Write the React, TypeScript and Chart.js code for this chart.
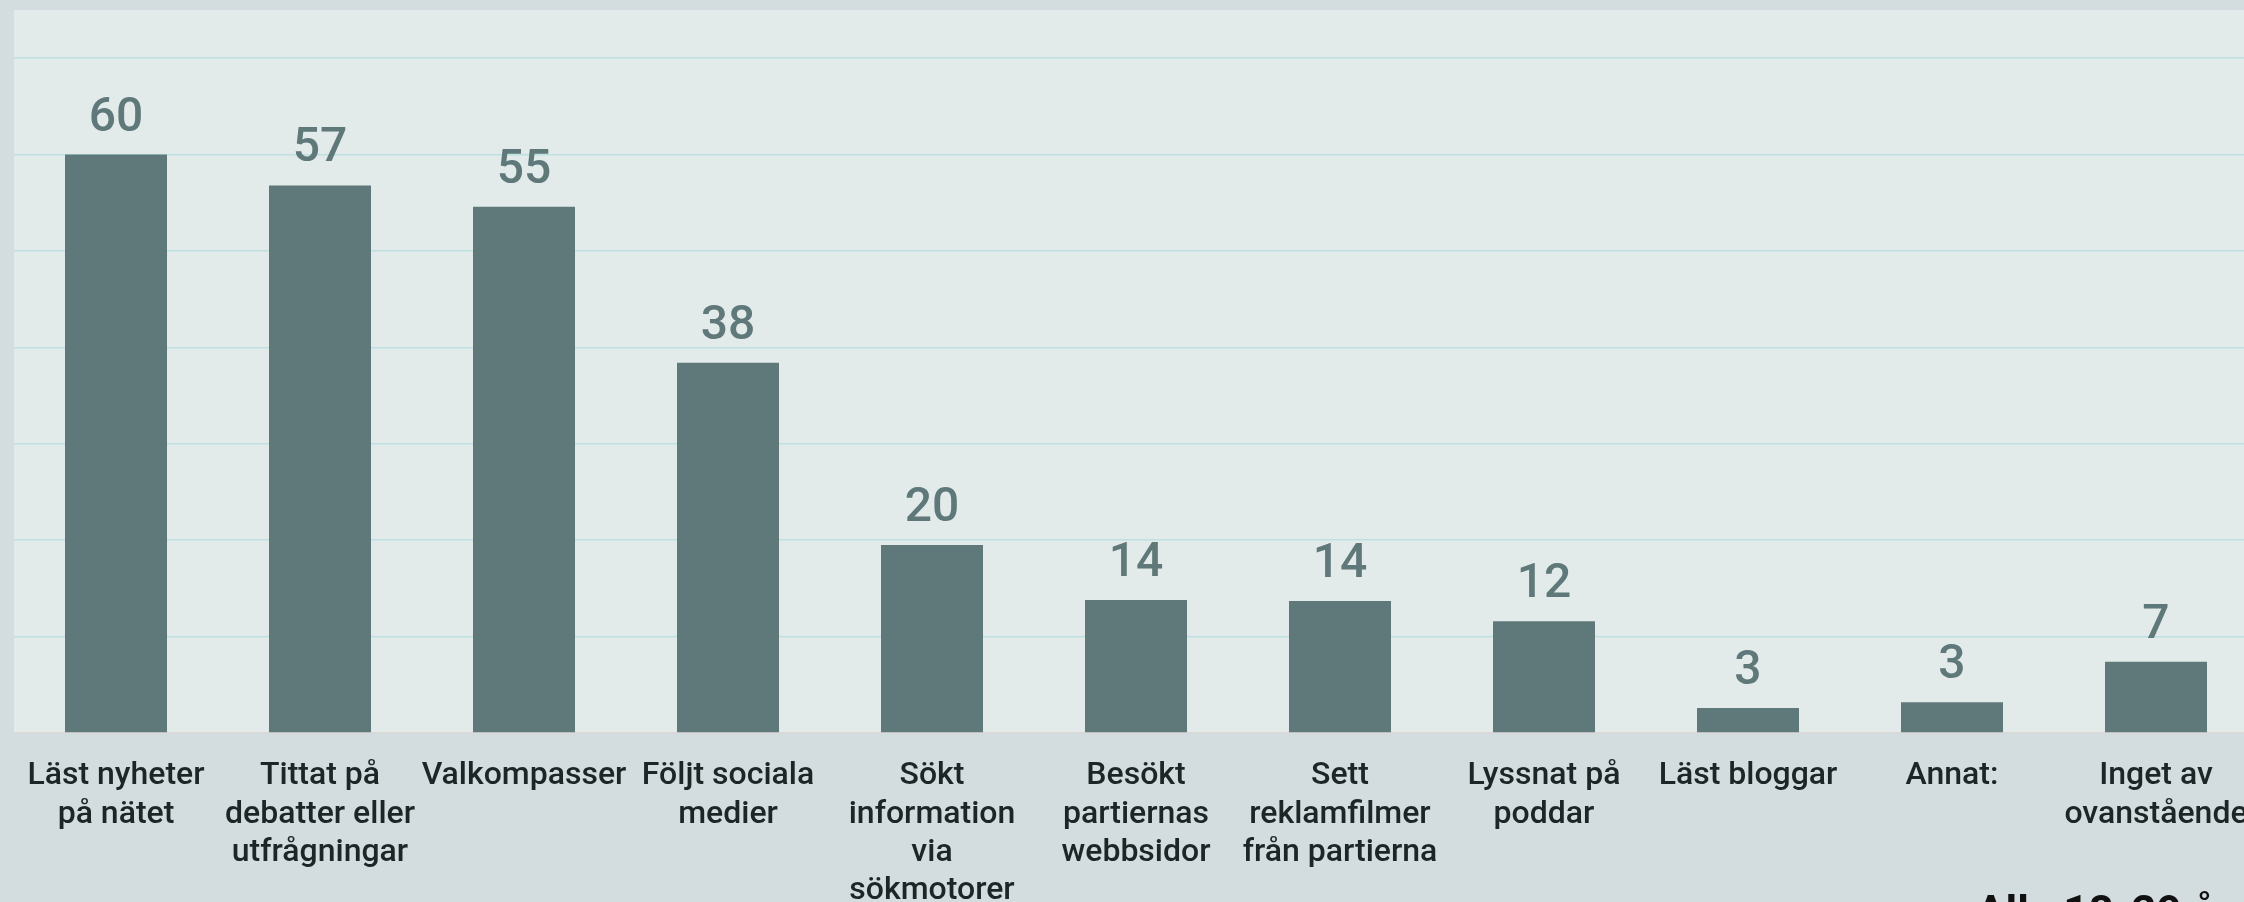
import React, { useEffect, useRef } from "react";
import { Chart, registerables } from "chart.js";

Chart.register(...registerables);

const categories: string[][] = [
  ["Läst nyheter", "på nätet"],
  ["Tittat på", "debatter eller", "utfrågningar"],
  ["Valkompasser"],
  ["Följt sociala", "medier"],
  ["Sökt", "information", "via", "sökmotorer"],
  ["Besökt", "partiernas", "webbsidor"],
  ["Sett", "reklamfilmer", "från partierna"],
  ["Lyssnat på", "poddar"],
  ["Läst bloggar"],
  ["Annat:"],
  ["Inget av", "ovanstående"],
];

const values: number[] = [60, 56.8, 54.6, 38.4, 19.5, 13.8, 13.7, 11.6, 2.6, 3.2, 7.4];
const valueLabels: string[] = ["60", "57", "55", "38", "20", "14", "14", "12", "3", "3", "7"];
const seriesName = "Alla 18-29 år";

const OUTER_BG = "#d3dcde";
const AREA_BG = "#e3eaea";
const BAR = "#5f7879";
const GRID = "#bde0e1";
const TEXT = "#1d2626";

const CANVAS_W = 2300;
const CANVAS_H = 960;

export default function App() {
  const ref = useRef<HTMLCanvasElement | null>(null);

  useEffect(() => {
    if (!ref.current) return;
    const areaBg = {
      id: "areaBg",
      beforeDraw(chart: any) {
        const { ctx, chartArea } = chart;
        ctx.save();
        ctx.fillStyle = AREA_BG;
        ctx.fillRect(chartArea.left, chartArea.top, chartArea.right - chartArea.left, chartArea.bottom - chartArea.top);
        ctx.restore();
      },
    };
    const valueText = {
      id: "valueText",
      afterDatasetsDraw(chart: any) {
        const { ctx } = chart;
        const meta = chart.getDatasetMeta(0);
        ctx.save();
        ctx.fillStyle = BAR;
        ctx.font = "500 48px Roboto";
        ctx.textAlign = "center";
        ctx.textBaseline = "alphabetic";
        meta.data.forEach((el: any, i: number) => {
          ctx.fillText(valueLabels[i], el.x, el.y - 24);
        });
        ctx.restore();
      },
      afterDraw(chart: any) {
        const { ctx } = chart;
        ctx.save();
        ctx.fillStyle = "#111";
        ctx.font = "700 44px Roboto";
        ctx.textAlign = "left";
        ctx.textBaseline = "alphabetic";
        ctx.fillText(seriesName, 1976, 927);
        ctx.restore();
      },
    };
    const chart = new Chart(ref.current, {
      type: "bar",
      data: {
        labels: categories,
        datasets: [
          {
            label: seriesName,
            data: values,
            backgroundColor: BAR,
            barPercentage: 0.5,
            categoryPercentage: 1.0,
          },
        ],
      },
      options: {
        responsive: false,
        animation: false,
        devicePixelRatio: 1,
        layout: { padding: { left: 14, right: 42, top: 10, bottom: 27 } },
        plugins: { legend: { display: false }, tooltip: { enabled: false } },
        scales: {
          x: {
            grid: { display: false, drawTicks: false },
            border: { display: false },
            ticks: {
              autoSkip: false,
              maxRotation: 0,
              minRotation: 0,
              padding: 24,
              color: TEXT,
              font: { family: "Roboto", size: 32, weight: "500", lineHeight: 1.2 },
            },
            afterFit: (s: any) => {
              s.height = 200;
            },
          },
          y: {
            min: 0,
            max: 75,
            ticks: { display: false, stepSize: 10 },
            border: { display: false },
            grid: {
              drawTicks: false,
              lineWidth: 1.5,
              color: (c: any) =>
                c.tick && c.tick.value === 0 ? "#dcdad9" : c.tick && c.tick.value > 70 ? "rgba(0,0,0,0)" : GRID,
            },
            afterFit: (s: any) => {
              s.width = 0;
            },
          },
        },
      },
      plugins: [areaBg, valueText],
    });
    return () => chart.destroy();
  }, []);

  return (
    <div
      style={{
        position: "absolute",
        left: 0,
        top: 0,
        width: 2244,
        height: 902,
        overflow: "hidden",
        background: OUTER_BG,
      }}
    >
      <canvas ref={ref} width={CANVAS_W} height={CANVAS_H} style={{ width: CANVAS_W, height: CANVAS_H, display: "block" }} />
    </div>
  );
}
